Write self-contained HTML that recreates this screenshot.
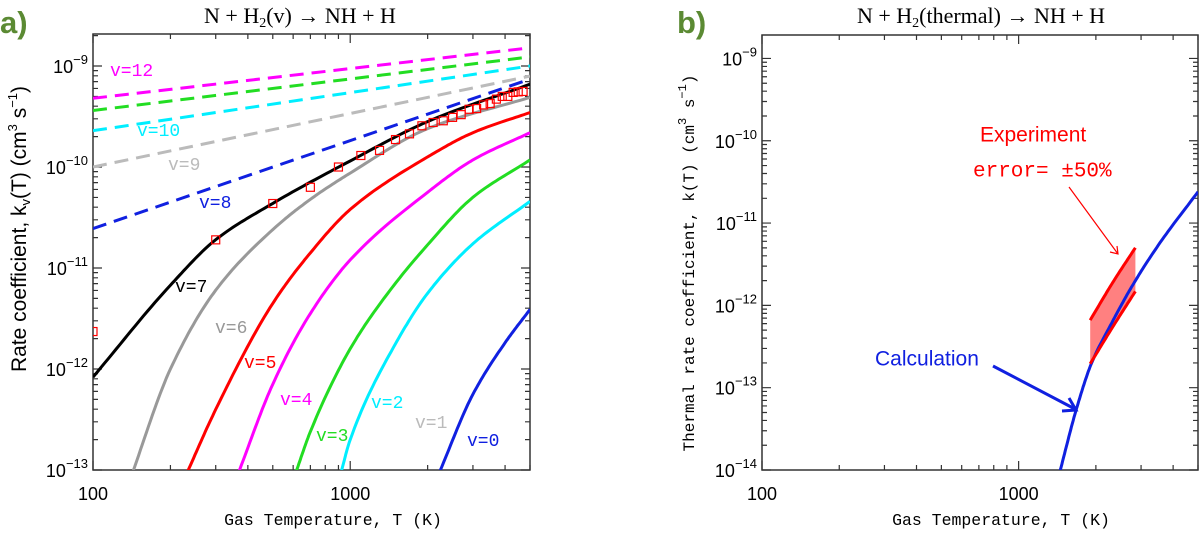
<!DOCTYPE html>
<html><head><meta charset="utf-8"><style>
html,body{margin:0;padding:0;background:#fff;}
svg{display:block;}
</style></head><body>
<svg id="chart" width="1200" height="533" viewBox="0 0 1200 533" xmlns="http://www.w3.org/2000/svg">
<defs>
<clipPath id="clipA"><rect x="93" y="34" width="437" height="436"/></clipPath>
<clipPath id="clipB"><rect x="762" y="35" width="436" height="435"/></clipPath>
</defs>
<text x="0" y="33" font-family="Liberation Sans, sans-serif" font-weight="bold" font-size="31" fill="#5b8a33">a)</text>
<text x="677" y="33" font-family="Liberation Sans, sans-serif" font-weight="bold" font-size="31" fill="#5b8a33">b)</text>
<text x="300" y="23" text-anchor="middle" font-family="Liberation Serif, serif" font-size="22">N + H<tspan font-size="14" dy="4">2</tspan><tspan dy="-4">(v) → NH + H</tspan></text>
<text x="981" y="23" text-anchor="middle" font-family="Liberation Serif, serif" font-size="22">N + H<tspan font-size="14" dy="4">2</tspan><tspan dy="-4">(thermal) → NH + H</tspan></text>
<text x="333" y="525" text-anchor="middle" font-family="Liberation Mono, monospace" font-size="16.5">Gas Temperature, T (K)</text>
<text x="1001" y="525" text-anchor="middle" font-family="Liberation Mono, monospace" font-size="16.5">Gas Temperature, T (K)</text>
<text transform="translate(26,229) rotate(-90)" text-anchor="middle" font-family="Liberation Sans, sans-serif" font-size="21">Rate coefficient, k<tspan font-size="13" dy="4">v</tspan><tspan dy="-4">(T) (cm</tspan><tspan font-size="13" dy="-9">3</tspan><tspan dy="9"> s</tspan><tspan font-size="13" dy="-9">−1</tspan><tspan dy="9">)</tspan></text>
<text transform="translate(694,263) rotate(-90)" text-anchor="middle" font-family="Liberation Mono, monospace" font-size="16">Thermal rate coefficient, k(T) (cm<tspan font-size="12" dy="-8">3</tspan><tspan dy="8"> s</tspan><tspan font-size="12" dy="-8">−1</tspan><tspan dy="8">)</tspan></text>
<g id="gA"></g>
<g id="gB"></g>
</svg>
<script>
// ---- Panel a data (log10 of rate coefficient) ----
const dashT = [100, 5000];
const v12 = [-9.32, -8.82];
const v11 = [-9.44, -8.91];
const v10 = [-9.64, -9.00];
const v9 = [-10.00, -9.10];
const v8 = [-10.61, -9.13];
const v7T = [100, 200, 300, 500, 1000, 2000, 5000];
const v7 = [-12.08, -11.17, -10.72, -10.36, -9.94, -9.55, -9.18];
const v6T = [140, 200, 300, 500, 700, 1000, 2000, 5000];
const v6 = [-13.08, -12.00, -11.22, -10.62, -10.32, -10.06, -9.62, -9.31];
const v5T = [230, 300, 500, 700, 1000, 2000, 3000, 5000];
const v5 = [-13.05, -12.40, -11.35, -10.85, -10.42, -9.90, -9.66, -9.46];
const v4T = [365, 500, 700, 1000, 2000, 3000, 5000];
const v4 = [-13.05, -12.15, -11.45, -10.92, -10.25, -9.93, -9.66];
const v3T = [610, 700, 1000, 1400, 2000, 3000, 5000];
const v3 = [-13.05, -12.62, -11.80, -11.25, -10.77, -10.30, -9.93];
const v2T = [915, 1000, 1500, 2000, 3000, 5000];
const v2 = [-13.05, -12.70, -11.75, -11.25, -10.76, -10.34];
const v0T = [2200, 3000, 4000, 5000];
const v0 = [-13.05, -12.25, -11.74, -11.41];
const expT = [100, 300, 500, 700, 900, 1100, 1300, 1500, 1700, 1900, 2100, 2300, 2500, 2700, 2900, 3100, 3300, 3500, 3700, 3900, 4100, 4300, 4500, 4700];
const expK = [2.35e-12, 1.90e-11, 4.35e-11, 6.3e-11, 1.0e-10, 1.30e-10, 1.46e-10, 1.87e-10, 2.13e-10, 2.56e-10, 2.76e-10, 2.87e-10, 3.10e-10, 3.30e-10, 3.73e-10, 3.79e-10, 4.12e-10, 4.25e-10, 4.70e-10, 5.0e-10, 5.0e-10, 5.48e-10, 5.55e-10, 5.6e-10];
// ---- Panel b data ----
const calcT = [1440, 1683, 1919, 2300, 2775, 3500, 5000];
const calcK = [-14.05, -13.25, -12.71, -12.22, -11.76, -11.27, -10.62];
const bandT = [1900, 2350, 2850];
const bandUpper = [-12.18, -11.70, -11.30];
const bandLower = [-12.71, -12.24, -11.83];
const xTickLabels = ["100", "1000"];
const yTicksA = [-13, -12, -11, -10, -9];
const yTicksB = [-14, -13, -12, -11, -10, -9];

const NS = "http://www.w3.org/2000/svg";
function mk(tag, attrs, parent) { const e = document.createElementNS(NS, tag); for (const k in attrs) e.setAttribute(k, attrs[k]); parent.appendChild(e); return e; }

function makeAxes(L, R, T, B, ymin, ymax) {
  const xr = Math.log10(5000) - 2;
  return {
    x: t => L + (Math.log10(t) - 2) / xr * (R - L),
    y: lk => B - (lk - ymin) / (ymax - ymin) * (B - T),
    L, R, T, B, ymin, ymax
  };
}
const A = makeAxes(93, 530, 34, 470, -13, -8.683);
const Bx = makeAxes(762, 1198, 35, 470, -14, -8.715);

function smoothPath(pts) {
  const n = pts.length;
  if (n < 3) return "M" + pts.map(p => p[0].toFixed(1) + "," + p[1].toFixed(1)).join("L");
  const xs = pts.map(p => p[0]), ys = pts.map(p => p[1]);
  const d = [], m = [];
  for (let i = 0; i < n - 1; i++) d.push((ys[i + 1] - ys[i]) / (xs[i + 1] - xs[i]));
  m[0] = d[0]; m[n - 1] = d[n - 2];
  for (let i = 1; i < n - 1; i++) {
    if (d[i - 1] * d[i] <= 0) m[i] = 0;
    else {
      const h0 = xs[i] - xs[i - 1], h1 = xs[i + 1] - xs[i];
      const w1 = 2 * h1 + h0, w2 = h1 + 2 * h0;
      m[i] = (w1 + w2) / (w1 / d[i - 1] + w2 / d[i]);
    }
  }
  let s = "M" + xs[0].toFixed(1) + "," + ys[0].toFixed(1);
  for (let i = 0; i < n - 1; i++) {
    const h = xs[i + 1] - xs[i];
    for (let k = 1; k <= 20; k++) {
      const t = k / 20, t2 = t * t, t3 = t2 * t;
      const y = (2 * t3 - 3 * t2 + 1) * ys[i] + (t3 - 2 * t2 + t) * h * m[i] + (-2 * t3 + 3 * t2) * ys[i + 1] + (t3 - t2) * h * m[i + 1];
      s += "L" + (xs[i] + t * h).toFixed(1) + "," + y.toFixed(1);
    }
  }
  return s;
}

function drawFrame(g, ax, yTicks, name) {
  const box = mk("rect", {x: ax.L, y: ax.T, width: ax.R - ax.L, height: ax.B - ax.T, fill: "none", stroke: "#333", "stroke-width": 1.5}, g);
  
  
  let d = "";
  for (const dec of [100, 1000]) {
    for (let m = 1; m <= 9; m++) {
      const t = dec * m; if (t > 5000) break;
      const x = ax.x(t), len = m === 1 ? 9 : 5;
      d += "M" + x + "," + ax.B + "v" + (-len) + "M" + x + "," + ax.T + "v" + len;
    }
  }
  for (let e = Math.floor(ax.ymin); e <= Math.ceil(ax.ymax); e++) {
    for (let m = 1; m <= 9; m++) {
      const lk = e + Math.log10(m); if (lk < ax.ymin || lk > ax.ymax) continue;
      const y = ax.y(lk), len = m === 1 ? 9 : 5;
      d += "M" + ax.L + "," + y + "h" + len + "M" + ax.R + "," + y + "h" + (-len);
    }
  }
  const ticks = mk("path", {d: d, stroke: "#333", "stroke-width": 1.2, fill: "none"}, g);
  
  
  [100, 1000].forEach((t, i) => {
    const tx = mk("text", {x: ax.x(t), y: 500, "text-anchor": "middle", "font-family": "Liberation Sans, sans-serif", "font-size": 18}, g);
    tx.textContent = xTickLabels[i];
    
    
  });
  yTicks.forEach(e => {
    const tx = mk("text", {x: ax.L - 5, y: ax.y(e) + 7, "text-anchor": "end", "font-family": "Liberation Sans, sans-serif", "font-size": 18}, g);
    
    
    const s1 = mk("tspan", {}, tx); s1.textContent = "10";
    const s2 = mk("tspan", {dy: -9, "font-size": 13}, tx); s2.textContent = "−" + Math.abs(e);
  });
}

function line(g, ax, Ts, Ks, color, dashed, name, clip) {
  const pts = Ts.map((t, i) => [ax.x(t), ax.y(Ks[i])]);
  const p = mk("path", {d: smoothPath(pts), stroke: color, "stroke-width": 3, fill: "none", "clip-path": clip}, g);
  if (dashed) p.setAttribute("stroke-dasharray", "14 8");
  
  
}
function label(g, x, y, txt, color, name, font, size) {
  const t = mk("text", {x: x, y: y, fill: color, "font-family": font || "Liberation Mono, monospace", "font-size": size || 18, "dominant-baseline": "middle"}, g);
  t.textContent = txt;
  
  
}

// Panel a
const gA = document.getElementById("gA");
drawFrame(gA, A, yTicksA, "panel-a");
line(gA, A, dashT, v12, "#ff00ff", true, "line-v12", "url(#clipA)");
line(gA, A, dashT, v11, "#22dd22", true, "line-v11", "url(#clipA)");
line(gA, A, dashT, v10, "#00eeff", true, "line-v10", "url(#clipA)");
line(gA, A, dashT, v9, "#bbbbbb", true, "line-v9", "url(#clipA)");
line(gA, A, dashT, v8, "#1020e0", true, "line-v8", "url(#clipA)");
line(gA, A, v0T, v0, "#1020e0", false, "line-v0", "url(#clipA)");
line(gA, A, v2T, v2, "#00eeff", false, "line-v2", "url(#clipA)");
line(gA, A, v3T, v3, "#22dd22", false, "line-v3", "url(#clipA)");
line(gA, A, v4T, v4, "#ff00ff", false, "line-v4", "url(#clipA)");
line(gA, A, v5T, v5, "#ff0000", false, "line-v5", "url(#clipA)");
line(gA, A, v6T, v6, "#999999", false, "line-v6", "url(#clipA)");
line(gA, A, v7T, v7, "#000000", false, "line-v7", "url(#clipA)");
const gExp = mk("g", {"clip-path": "url(#clipA)"}, gA);
expT.forEach((t, i) => {
  const r = mk("rect", {x: A.x(t) - 4, y: A.y(Math.log10(expK[i])) - 4, width: 8, height: 8, fill: "none", stroke: "#ff0000", "stroke-width": 1.2}, gExp);
  
  
});
label(gA, 110, 71, "v=12", "#ff00ff", "label-v12");
label(gA, 137, 131, "v=10", "#00eeff", "label-v10");
label(gA, 168, 165, "v=9", "#bbbbbb", "label-v9");
label(gA, 199, 203, "v=8", "#1020e0", "label-v8");
label(gA, 175, 287, "v=7", "#000000", "label-v7");
label(gA, 215, 328, "v=6", "#999999", "label-v6");
label(gA, 244, 363, "v=5", "#ff0000", "label-v5");
label(gA, 280, 400, "v=4", "#ff00ff", "label-v4");
label(gA, 371, 403, "v=2", "#00eeff", "label-v2");
label(gA, 316, 436, "v=3", "#22dd22", "label-v3");
label(gA, 415, 423, "v=1", "#bbbbbb", "label-v1");
label(gA, 467, 441, "v=0", "#1020e0", "label-v0");

// Panel b
const gB = document.getElementById("gB");
drawFrame(gB, Bx, yTicksB, "panel-b");
let bd = "M" + bandT.map((t, i) => Bx.x(t).toFixed(1) + "," + Bx.y(bandUpper[i]).toFixed(1)).join("L");
bd += "L" + bandT.slice().reverse().map((t, i) => Bx.x(t).toFixed(1) + "," + Bx.y(bandLower[bandT.length - 1 - i]).toFixed(1)).join("L") + "Z";
const band = mk("path", {d: bd, fill: "#ff6060", "fill-opacity": 0.8, stroke: "none"}, gB);


line(gB, Bx, calcT, calcK, "#1020e0", false, "calculation-line", "url(#clipB)");
line(gB, Bx, bandT, bandUpper, "#ff0000", false, "experiment-upper", "url(#clipB)");
line(gB, Bx, bandT, bandLower, "#ff0000", false, "experiment-lower", "url(#clipB)");
label(gB, 980, 136, "Experiment", "#ff0000", "experiment-label", "Liberation Sans, sans-serif", 21);
label(gB, 973, 171, "error= ±50%", "#ff0000", "error-label", "Liberation Mono, monospace", 21);
label(gB, 875, 360, "Calculation", "#1020e0", "calculation-label", "Liberation Sans, sans-serif", 21);
const ar1 = mk("path", {d: "M1069,187L1118,254M1110,252L1118,254L1117,246", stroke: "#ff0000", "stroke-width": 1.2, fill: "none"}, gB);


const ar2 = mk("path", {d: "M993,366L1075,409M1062,411L1076,410L1069,398", stroke: "#1020e0", "stroke-width": 3, fill: "none"}, gB);


</script>
</body></html>
